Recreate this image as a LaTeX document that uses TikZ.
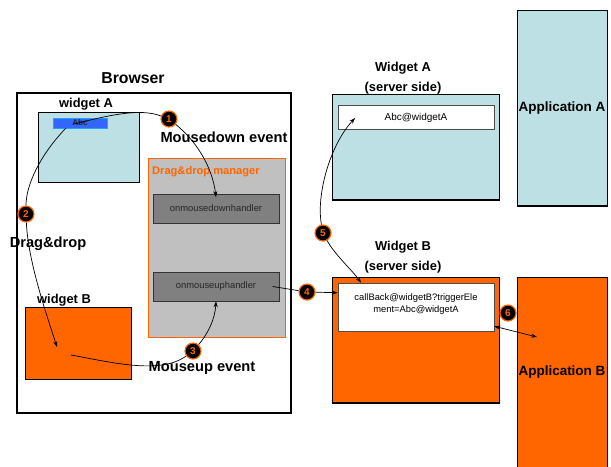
\documentclass[tikz,border=0pt]{standalone}
\usepackage{fontspec}
\setmainfont{Liberation Sans}
\usetikzlibrary{fit,arrows.meta}

\definecolor{paleblue}{HTML}{BCE0E4}
\definecolor{dorange}{HTML}{FF6600}
\definecolor{mgrey}{HTML}{C0C0C0}
\definecolor{dgrey}{HTML}{808080}
\definecolor{abcblue}{HTML}{3366FF}

\tikzset{
  frame/.style={draw=black,line width=0.5pt,inner sep=0pt},
  cyanbox/.style={frame,fill=paleblue},
  orangebox/.style={frame,fill=dorange},
  whitebox/.style={frame,draw=black!70,fill=white},
  handler/.style={frame,draw=black!80,fill=dgrey},
  handlertext/.style={font=\fontsize{8}{9}\selectfont,text=black!85},
  numdot/.style={circle,fill=black,draw=dorange,line width=1pt,minimum size=0.48cm,
    inner sep=0pt,text=dorange,font=\bfseries\fontsize{8.5}{9}\selectfont},
  caption/.style={font=\bfseries\fontsize{11}{17}\selectfont},
  eventlbl/.style={font=\bfseries\fontsize{12.5}{14}\selectfont},
  apptext/.style={font=\bfseries\fontsize{11.5}{13}\selectfont},
  wire/.style={line width=0.6pt},
  flow/.style={wire,-{Stealth[length=5pt,width=3.5pt]}},
  shadowline/.style={line width=1.4pt},
}

\begin{document}
\begin{tikzpicture}[x=0.03cm,y=-0.03cm]
\useasboundingbox (0,0) rectangle (611,466);

% Browser side
\node[font=\bfseries\fontsize{13.5}{15}\selectfont] (browsertitle) at (133,78) {Browser};
\node[fit={(17,93) (291,413)},inner sep=0pt,draw=black,line width=2pt] (browser) {};

\node[caption] (walbl) at (86,104) {widget A};
\node[cyanbox,fit={(38,112) (139,182)}] (wa) {};
\node[fit={(53,118) (107,128)},inner sep=0pt,fill=abcblue,draw=abcblue!60!cyan] (abc) {};
\node[font=\bfseries\fontsize{7}{7}\selectfont,text=black!85] (abctext) at (80,123) {Abc};

\node[caption] (wblbl) at (64,300) {widget B};
\node[orangebox,fit={(25,307) (131,379)}] (wb) {};

% Drag&drop manager
\node[fit={(148,158) (285,337)},inner sep=0pt,fill=mgrey,draw=dorange,line width=0.8pt] (ddm) {};
\draw[dorange,line width=1.4pt] (ddm.south west) -- (ddm.south east);
\node[anchor=west,text=dorange,font=\bfseries\fontsize{9.5}{11}\selectfont] (ddmlbl) at (148,172) {Drag\&drop manager};
\node[handler,fit={(153,194) (279,223)}] (hdown) {};
\node[handlertext] (hdowntext) at (hdown.center) {onmousedownhandler};
\node[handler,fit={(153,272) (279,301)}] (hup) {};
\node[handlertext] (huptext) at (hup.center) {onmouseuphandler};

% Server side
\node[caption,align=center] (sa) at (403,78) {Widget A\\(server side)};
\node[cyanbox,fit={(332,94) (499,200)}] (swa) {};
\draw[shadowline] (swa.south west) -- (swa.south east);
\node[whitebox,fit={(338,105) (494,129)}] (aw) {};
\node[font=\fontsize{8.5}{9}\selectfont] (awtext) at (416,118) {Abc@widgetA};

\node[caption,align=center] (sb) at (403,257) {Widget B\\(server side)};
\node[orangebox,fit={(332,277) (499,403)}] (swb) {};
\draw[shadowline] (swb.south west) -- (swb.south east);
\node[whitebox,fit={(338,283) (494,331)}] (cb) {};
\node[align=center,font=\fontsize{8}{10}\selectfont] (cbtext) at (416,304)
  {callBack@widgetB?triggerEle\\ment=Abc@widgetA};

\node[cyanbox,fit={(517,10) (607,206)}] (appa) {};
\draw[shadowline] (appa.south west) -- (appa.south east);
\node[apptext] (appatext) at (562,108) {Application A};
\node[orangebox,fit={(517,277) (607,470)}] (appb) {};
\node[apptext] (appbtext) at (562,372) {Application B};

% Steps
\node[numdot] (c1) at (169,119) {1};
\node[numdot] (c2) at (26,214) {2};
\node[numdot] (c3) at (193,351) {3};
\node[numdot] (c4) at (307,292) {4};
\node[numdot] (c5) at (323,233) {5};
\node[numdot] (c6) at (508,313) {6};

\coordinate (grab) at (74,124);
\coordinate (grab2) at (66,128);
\coordinate (dropb) at (57,347);
\coordinate (releaseb) at (71,355);
\coordinate (appbin) at (537,337);

% 1: mousedown
\draw[wire] (grab) .. controls (110,115) and (140,108) .. (c1);
\draw[flow] (c1) .. controls (195,140) and (212,165) .. ([yshift=-0.1cm]hdown.north);
% 2: drag and drop
\draw[wire] (grab2) .. controls (40,155) and (26,185) .. (c2);
\draw[flow] (c2) .. controls (28,260) and (45,310) .. (dropb);
% 3: mouseup
\draw[wire] (releaseb) .. controls (110,362) and (160,375) .. (c3);
\draw[flow] (c3) .. controls (207,335) and (215,320) .. (hup.south);
% 4: to widget B
\draw[wire] ([xshift=-0.2cm]hup.east) -- (c4);
\draw[flow] (c4) -- ([yshift=-0.3cm]cb.north west);
% 5: widget B to widget A
\draw[flow] (c5) .. controls (335,255) and (352,270) .. ([xshift=0.7cm]cb.north west);
\draw[flow] (c5) .. controls (316,195) and (330,145) .. ([xshift=0.52cm,yshift=-0.4cm]aw.north west);
% 6: application B
\draw[wire,{Stealth[length=5pt,width=3.5pt]}-{Stealth[length=5pt,width=3.5pt]}]
  ([yshift=0.15cm]cb.south east) -- (appbin);

% event labels
\node[eventlbl] (mdown) at (224,137) {Mousedown event};
\node[eventlbl] (dnd) at (48,244) {Drag\&drop};
\node[eventlbl] (mup) at (202,368) {Mouseup event};
\end{tikzpicture}
\end{document}
